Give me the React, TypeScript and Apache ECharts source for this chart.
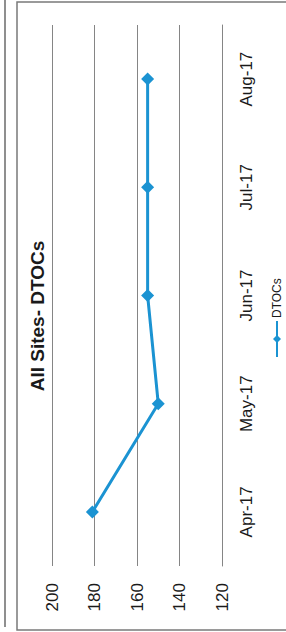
import React, { useEffect, useRef } from "react";
import * as echarts from "echarts";

const categories = ["Apr-17", "May-17", "Jun-17", "Jul-17", "Aug-17"];
const dtocs = [181, 150, 155, 155, 155];
const valueMin = 120;
const valueMax = 200;
const valueStep = 20;
const chartTitle = "All Sites- DTOCs";
const seriesName = "DTOCs";

export default function App() {
  const ref = useRef<HTMLDivElement>(null);
  useEffect(() => {
    if (!ref.current) return;
    const chart = echarts.init(ref.current, null, { renderer: "svg" });
    const font = "'Liberation Sans', Arial, sans-serif";
    chart.setOption({
      animation: false,
      backgroundColor: "#ffffff",
      title: {
        text: chartTitle,
        left: "center",
        top: 28,
        padding: 0,
        textStyle: { fontFamily: font, fontSize: 19, fontWeight: "bold", color: "#1a1a1a" },
      },
      legend: {
        left: 274,
        top: 271,
        padding: 0,
        itemWidth: 36,
        itemHeight: 10,
        itemGap: 4,
        textStyle: { fontFamily: font, fontSize: 12, color: "#1a1a1a", padding: [0, 0, 0, -2] },
        data: [seriesName],
      },
      grid: { left: 66, right: 25, top: 52, bottom: 64 },
      xAxis: {
        type: "category",
        data: categories,
        boundaryGap: true,
        axisLine: { show: true, lineStyle: { color: "#858585", width: 1 } },
        axisTick: { show: false },
        axisLabel: { margin: 16, fontFamily: font, fontSize: 17, color: "#1a1a1a" },
      },
      yAxis: {
        type: "value",
        min: valueMin,
        max: valueMax,
        interval: valueStep,
        axisLine: { show: false },
        axisTick: { show: false },
        splitLine: { show: true, lineStyle: { color: "#858585", width: 1 } },
        axisLabel: { margin: 17, fontFamily: font, fontSize: 17, color: "#1a1a1a" },
      },
      series: [
        {
          name: seriesName,
          type: "line",
          data: dtocs,
          symbol: "diamond",
          symbolSize: 13,
          lineStyle: { color: "#1b93d2", width: 3 },
          itemStyle: { color: "#1b93d2" },
        },
      ],
      graphic: [
        {
          type: "rect",
          shape: { x: 2, y: 17, width: 628, height: 300 },
          style: { fill: "none", stroke: "#7a7a7a", lineWidth: 1.5 },
          silent: true,
        },
        {
          type: "line",
          shape: { x1: 5, y1: 5, x2: 632, y2: 5 },
          style: { stroke: "#6a6a6a", lineWidth: 1.5 },
          silent: true,
        },
      ],
    });
    return () => chart.dispose();
  }, []);

  return (
    <div
      style={{
        position: "fixed",
        left: 0,
        top: 0,
        width: 286,
        height: 632,
        overflow: "hidden",
        background: "#ffffff",
      }}
    >
      <div
        style={{
          position: "absolute",
          left: 0,
          top: 0,
          width: 632,
          height: 286,
          transformOrigin: "0 0",
          transform: "translateY(632px) rotate(-90deg)",
        }}
      >
        <div ref={ref} style={{ width: 632, height: 286 }} />
      </div>
    </div>
  );
}
